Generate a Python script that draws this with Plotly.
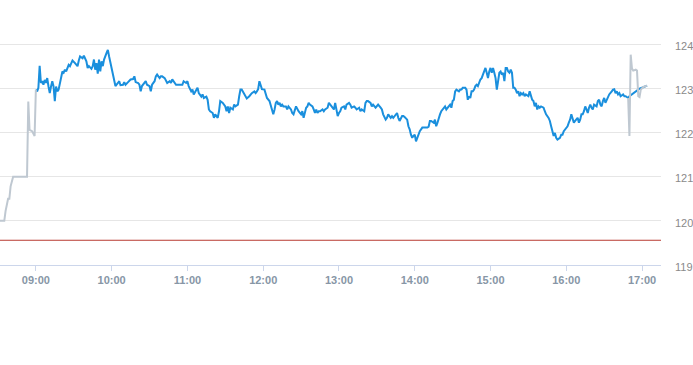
import pandas as pd
import plotly.graph_objects as go

# --- data ---------------------------------------------------------------
session_date = "2024-01-15"
open_time = "09:00"
prev_close = 119.56

# pre-market (minutes relative to 09:00 open)
pre_minutes = [-29, -25, -24, -23, -22, -21, -20, -18, -7, -6, -5, -3, -2, -1, 0]
pre_values = [120.0, 120.0, 120.22, 120.41, 120.5, 120.5, 120.78, 121.0, 121.0,
              122.70, 122.06, 122.03, 121.95, 121.92, 122.97]

# regular session (minutes after 09:00 open)
reg_minutes = [
    0, 1, 2, 3, 4, 5, 6, 7, 8, 9, 10, 11, 12, 13, 14, 15, 16, 17, 18, 19, 20,
    21, 22, 23, 24, 25, 26, 27, 28, 29, 31, 32, 33, 34, 35, 37, 38, 40, 41, 42,
    44, 45, 46, 47, 48, 49, 50, 51, 52, 53, 54, 56, 57, 58, 59, 60, 61, 62, 63,
    65, 66, 67, 69, 70, 71, 73, 74, 75, 77, 78, 79, 81, 82,
    83, 84, 86, 87, 88, 90, 91, 92, 94, 95, 96, 98, 99, 100, 102, 103, 104, 106,
    107, 108, 110, 111, 114, 116, 117, 119, 120, 121, 123, 124, 125, 127, 128,
    129, 131, 132, 133, 135, 136, 137, 138, 140, 141, 142, 144, 145, 146, 148,
    149, 150, 151, 152, 153, 154, 156, 157, 158, 160, 161, 162, 163, 165, 166,
    167, 169, 170, 171, 173,
    174, 175, 176, 177, 178, 179, 181, 182, 183, 185, 186, 187, 188, 189, 190,
    191, 192, 193, 194, 195, 196, 198, 199, 200, 202, 203, 204, 206, 207, 208,
    210, 211, 212, 213, 214, 215, 216, 217, 219, 220, 221, 222, 223, 224, 225,
    227, 228, 229, 231, 232, 233, 235, 236, 237, 238, 239, 240, 241, 242, 244,
    245, 246, 248, 249, 250, 252, 253, 254, 256, 257, 258, 260,
    261, 262, 263, 265, 266, 267, 269, 270, 271, 273, 274, 275, 277, 278, 279,
    281, 282, 283, 285, 286, 287, 288, 290, 291, 292, 294, 295, 296, 297, 298,
    299, 300, 301, 302, 303, 304, 306, 307, 308, 310, 311, 312, 313, 315, 316,
    317, 318, 319, 320, 321, 323, 324, 325, 327, 328, 329, 330, 331, 332, 333,
    335, 336, 337, 338, 340, 341, 342, 343, 344, 345, 346,
    347, 348, 349, 350, 352, 353, 354, 355, 356, 357, 358, 359, 360, 361, 362,
    363, 364, 365, 366, 367, 368, 369, 370, 371, 372, 373, 374, 375, 376, 377,
    378, 379, 380, 381, 382, 383, 384, 385, 386, 387, 388, 390, 391, 392, 393,
    394, 395, 396, 397, 398, 399, 400, 402, 403, 404, 406, 407, 408, 409, 410,
    411, 412, 413, 415, 416, 417, 418, 419, 420, 421, 422, 423, 424, 425, 426,
    427, 428, 429, 430, 431, 432,
    433, 434, 435, 436, 437, 438, 439, 440, 441, 442, 444, 445, 446, 447, 448,
    449, 450, 451, 452, 453, 454, 456, 457, 458, 459, 460, 461, 462, 463, 465,
    466, 467, 469, 470, 478, 484,
]
reg_values = [
    122.97, 122.93, 123.01, 123.51, 123.12, 123.16, 123.08, 123.19, 123.12, 123.23,
    123.04, 122.89, 123.04, 123.16, 123.04, 122.71, 123.04, 122.93, 122.97, 123.12,
    123.19, 123.38, 123.35, 123.42, 123.38, 123.46, 123.53, 123.50, 123.57, 123.63,
    123.57, 123.53, 123.50, 123.63, 123.72, 123.68, 123.74, 123.61, 123.46, 123.50,
    123.44, 123.50, 123.65, 123.42, 123.57, 123.33, 123.65, 123.38, 123.61, 123.50,
    123.65, 123.80, 123.87, 123.72, 123.57, 123.50, 123.35, 123.20, 123.05,
    123.12, 123.16, 123.07, 123.08, 123.14, 123.08, 123.14, 123.16, 123.20, 123.21,
    123.27, 123.14, 123.12, 123.08,
    122.93, 123.05, 123.12, 123.16, 123.08, 123.05, 122.93, 123.08, 123.16, 123.27,
    123.31, 123.23, 123.27, 123.27, 123.23, 123.16, 123.12, 123.16, 123.12, 123.20,
    123.12, 123.08, 123.08, 123.08, 123.16, 123.12, 123.16, 123.05, 122.93, 122.97,
    122.86, 122.97, 123.01, 122.89, 122.81, 122.86, 122.78, 122.81, 122.74, 122.52,
    122.48, 122.44, 122.33, 122.41, 122.33, 122.48, 122.71, 122.67, 122.63, 122.59,
    122.48, 122.59, 122.44, 122.56, 122.52, 122.63, 122.59, 122.63, 122.82, 122.97,
    122.97, 122.86, 122.79, 122.77, 122.82, 122.86, 122.89, 122.93,
    122.89, 122.93, 122.98, 123.16, 123.05, 122.98, 122.97, 122.86, 122.78, 122.71,
    122.59, 122.48, 122.41, 122.52, 122.67, 122.71, 122.63, 122.67, 122.59, 122.63,
    122.59, 122.59, 122.52, 122.59, 122.52, 122.44, 122.41, 122.59, 122.52, 122.48,
    122.41, 122.48, 122.33, 122.48, 122.56, 122.59, 122.67, 122.63, 122.59, 122.52,
    122.44, 122.52, 122.44, 122.48, 122.48, 122.52, 122.48, 122.52, 122.56, 122.67,
    122.63, 122.56, 122.52, 122.67, 122.52, 122.37, 122.44, 122.48, 122.56, 122.59,
    122.52, 122.63, 122.67, 122.63, 122.56, 122.59, 122.56, 122.52, 122.56, 122.48,
    122.52, 122.48,
    122.67, 122.71, 122.71, 122.67, 122.59, 122.63, 122.56, 122.59, 122.63, 122.56,
    122.52, 122.41, 122.29, 122.33, 122.41, 122.33, 122.37, 122.33, 122.41, 122.44,
    122.33, 122.26, 122.37, 122.37, 122.35, 122.29, 122.14, 122.07, 121.95, 121.88,
    121.92, 121.95, 121.80, 121.88, 121.95, 122.03, 122.11, 122.11, 122.11, 122.11,
    122.13, 122.26, 122.26, 122.22, 122.29, 122.14, 122.22, 122.33, 122.41, 122.48,
    122.56, 122.59, 122.52, 122.59, 122.63, 122.56, 122.71, 122.74, 122.93, 122.97,
    122.93, 122.97, 122.97, 123.01, 123.01, 122.97, 122.74, 122.82, 122.78, 122.93,
    122.93,
    122.97, 123.05, 123.08, 123.05, 123.20, 123.23, 123.31, 123.38, 123.46, 123.35,
    123.23, 123.38, 123.46, 123.35, 123.46, 123.35, 123.23, 122.97, 123.12, 123.35,
    123.38, 123.31, 123.35, 123.16, 123.46, 123.46, 123.38, 123.35, 123.42, 123.35,
    123.01, 123.01, 122.97, 122.89, 122.93, 122.82, 122.89, 122.86, 122.89, 122.82,
    122.86, 122.82, 122.93, 122.82, 122.74, 122.71, 122.59, 122.67, 122.52, 122.59,
    122.56, 122.59, 122.56, 122.48, 122.41, 122.33, 122.26, 122.14, 122.03, 121.92,
    121.99, 121.88, 121.84, 121.88, 121.95, 121.95, 122.03, 122.07, 122.11, 122.14,
    122.22, 122.29, 122.41, 122.29, 122.22, 122.26, 122.29, 122.33, 122.22, 122.29,
    122.41,
    122.41, 122.48, 122.59, 122.52, 122.44, 122.56, 122.63, 122.56, 122.52, 122.63,
    122.59, 122.71, 122.74, 122.63, 122.59, 122.71, 122.78, 122.67, 122.74, 122.78,
    122.86, 122.93, 122.97, 122.98, 122.89, 122.93, 122.86, 122.89, 122.82, 122.86,
    122.82, 122.82, 122.78, 122.82, 122.99, 123.06,
]

# after-hours (minutes after 09:00 open)
post_minutes = [469, 470, 471, 472, 473, 474, 475, 476, 477, 478, 479, 481, 484]
post_values = [122.78, 121.92, 123.76, 123.45, 123.40, 123.42, 123.42, 123.40,
               122.82, 122.80, 122.97, 123.03, 123.06]

y_ticks = [119, 120, 121, 122, 123, 124]
x_range = ["08:31:36", "17:15:00"]

# --- build ----------------------------------------------------------------
base = pd.Timestamp(f"{session_date} {open_time}")


def to_time(mins):
    return [base + pd.Timedelta(minutes=m) for m in mins]


BLUE = "#1a8fdd"
GREY = "#bfc8d1"

fig = go.Figure()
fig.add_trace(go.Scatter(x=to_time(reg_minutes), y=reg_values, mode="lines",
                         line=dict(color=BLUE, width=2), hoverinfo="skip"))
fig.add_trace(go.Scatter(x=to_time(pre_minutes), y=pre_values, mode="lines",
                         line=dict(color=GREY, width=2), hoverinfo="skip"))
fig.add_trace(go.Scatter(x=to_time(post_minutes), y=post_values, mode="lines",
                         line=dict(color=GREY, width=2), hoverinfo="skip"))

fig.add_shape(type="line", xref="paper", x0=0, x1=1, yref="y",
              y0=prev_close, y1=prev_close,
              line=dict(color="#b83a30", width=1), layer="below")

fig.update_layout(
    width=693, height=365,
    margin=dict(l=0, r=30, t=22, b=100),
    paper_bgcolor="white", plot_bgcolor="white",
    showlegend=False,
    font=dict(family="Liberation Sans, Arial, sans-serif"),
)
fig.update_xaxes(
    type="date",
    range=[f"{session_date} {x_range[0]}", f"{session_date} {x_range[1]}"],
    tickformat="%H:%M",
    tick0=f"{session_date} 09:00",
    dtick=3600000,
    showgrid=False,
    showline=True, linecolor="#ccd6eb", linewidth=1,
    ticks="outside", ticklen=5, tickcolor="#ccd6eb",
    tickfont=dict(size=11, color="#8796a6", weight="bold"),
    zeroline=False,
)
fig.update_yaxes(
    side="right",
    range=[119, 124.5],
    tickvals=y_ticks,
    showgrid=True, gridcolor="#e6e6e6", gridwidth=1,
    showline=False, zeroline=False,
    ticks="", ticklabelstandoff=13, ticklabelshift=2,
    tickfont=dict(size=11, color="#8a8a8a"),
)

fig.write_html("out.html")
